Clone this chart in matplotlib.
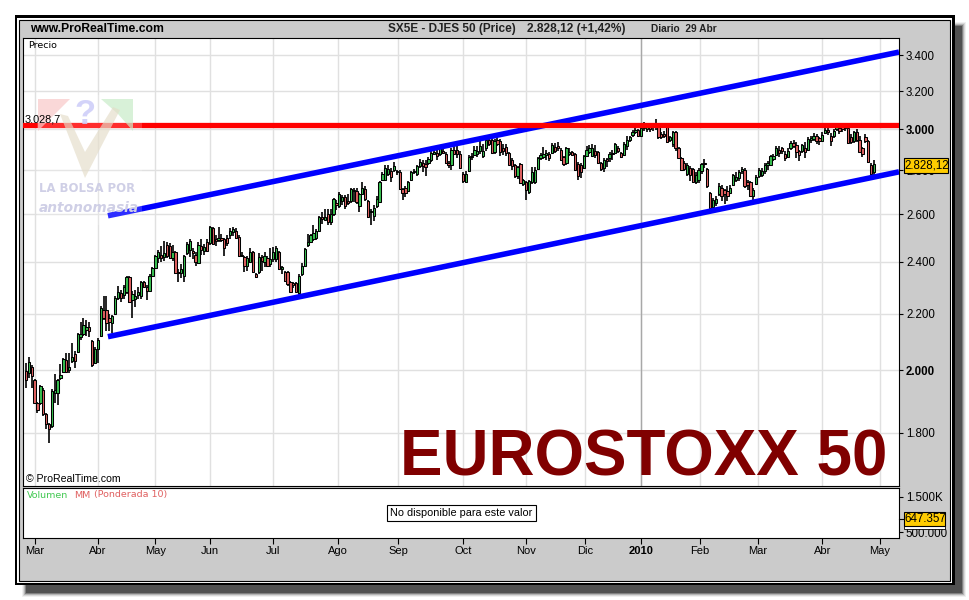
import numpy as np
import matplotlib
matplotlib.use('Agg')
import matplotlib.pyplot as plt
from matplotlib.patches import Rectangle, Polygon

plt.rcParams['font.family'] = ['Liberation Sans', 'DejaVu Sans']

# daily candles (one line = ten sessions)
opens = [
    1998,1991,2011,1968,1891,1891,1935,1857,1826,1820,
    1926,1926,1975,1995,2035,2000,2030,2055,2062,2115,
    2125,2140,2150,2100,2025,2072,2120,2212,2212,2185,
    2165,2200,2258,2278,2268,2280,2340,2250,2255,2270,
    2265,2320,2300,2285,2345,2375,2415,2430,2420,2470,
    2465,2415,2440,2360,2355,2345,2435,2450,2445,2430,
    2395,2465,2445,2480,2478,2540,2495,2490,2500,2495,
    2500,2510,2525,2530,2503,2425,2420,2385,2400,2440,
    2350,2360,2420,2400,2417,2390,2410,2410,2440,2372,
    2358,2360,2320,2316,2315,2276,2350,2385,2470,2483,
    2495,2500,2530,2588,2575,2600,2565,2600,2650,2635,
    2660,2675,2660,2660,2710,2705,2635,2690,2712,2660,
    2610,2595,2635,2655,2755,2755,2785,2795,2800,2795,
    2790,2712,2720,2705,2755,2790,2785,2820,2835,2830,
    2835,2847,2880,2885,2880,2895,2880,2835,2825,2900,
    2900,2880,2785,2745,2795,2865,2875,2880,2895,2870,
    2905,2945,2945,2890,2945,2940,2905,2910,2885,2850,
    2825,2772,2830,2735,2745,2700,2745,2745,2805,2860,
    2865,2875,2880,2885,2910,2915,2900,2865,2835,2880,
    2890,2880,2830,2825,2810,2870,2890,2870,2895,2890,
    2835,2810,2855,2860,2880,2885,2905,2885,2875,2915,
    2945,2970,2985,2995,2968,3005,3000,3010,3010,3015,
    3015,2975,2975,3010,2945,2925,2985,2905,2860,2835,
    2785,2810,2805,2745,2755,2795,2835,2805,2695,2632,
    2650,2690,2720,2710,2705,2695,2730,2755,2765,2795,
    2800,2745,2745,2680,2735,2772,2780,2795,2825,2825,
    2855,2875,2900,2905,2880,2865,2905,2930,2920,2895,
    2895,2905,2900,2945,2950,2965,2955,2940,2980,2995,
    2965,2965,3000,3005,3010,3005,3005,2960,2940,2985,
    2945,2905,2960,2940,2827,2790]
highs = [
    2025,2045,2018,1972,1895,1952,1940,1860,1830,1936,
    1988,1972,2022,2042,2060,2060,2094,2065,2130,2168,
    2185,2175,2170,2105,2078,2110,2228,2265,2265,2200,
    2195,2265,2305,2290,2310,2345,2345,2285,2290,2300,
    2325,2325,2310,2350,2380,2430,2450,2465,2488,2480,
    2478,2470,2445,2370,2390,2430,2480,2495,2455,2440,
    2480,2495,2475,2495,2550,2545,2510,2545,2515,2500,
    2510,2540,2545,2540,2510,2440,2425,2425,2455,2445,
    2355,2435,2430,2440,2425,2455,2460,2465,2445,2385,
    2365,2365,2325,2320,2320,2350,2395,2458,2516,2515,
    2555,2535,2595,2612,2625,2625,2625,2672,2665,2700,
    2685,2685,2690,2720,2720,2720,2695,2745,2725,2665,
    2625,2640,2680,2750,2790,2825,2825,2810,2838,2800,
    2800,2720,2725,2750,2795,2805,2825,2855,2850,2850,
    2865,2895,2905,2900,2915,2915,2890,2845,2905,2925,
    2930,2895,2790,2795,2875,2885,2915,2915,2945,2925,
    2955,2965,2955,2950,2970,2950,2925,2925,2890,2860,
    2830,2820,2835,2760,2750,2755,2815,2815,2865,2885,
    2910,2900,2890,2930,2930,2935,2905,2870,2910,2905,
    2895,2885,2840,2835,2875,2915,2920,2927,2920,2895,
    2840,2860,2860,2890,2900,2930,2915,2890,2935,2965,
    2965,2995,3005,3000,3025,3035,3030,3025,3030,3052,
    3025,2985,2990,3030,2965,2990,2990,2910,2865,2845,
    2835,2820,2810,2790,2810,2835,2855,2810,2700,2672,
    2680,2740,2730,2715,2725,2730,2785,2790,2800,2815,
    2810,2755,2750,2720,2780,2810,2810,2835,2845,2875,
    2880,2915,2915,2910,2895,2905,2940,2945,2935,2900,
    2925,2935,2960,2965,2980,2975,2960,2985,3010,3005,
    2980,3000,3025,3025,3025,3025,3015,2975,2990,3000,
    2965,2910,2975,2945,2835,2850]
lows = [
    1942,1975,1942,1888,1862,1885,1852,1811,1769,1815,
    1894,1885,1968,1990,1990,1990,2025,2008,2058,2105,
    2120,2120,2115,2012,2020,2025,2115,2175,2135,2135,
    2130,2195,2250,2245,2255,2275,2240,2185,2225,2255,
    2255,2295,2250,2280,2340,2370,2395,2400,2405,2415,
    2410,2405,2350,2320,2335,2320,2430,2420,2410,2385,
    2390,2430,2430,2440,2470,2470,2465,2480,2480,2425,
    2465,2495,2505,2495,2420,2420,2360,2365,2395,2355,
    2335,2350,2365,2380,2380,2380,2400,2400,2368,2350,
    2320,2305,2280,2295,2280,2270,2345,2380,2462,2478,
    2485,2490,2525,2560,2575,2555,2555,2595,2620,2630,
    2640,2625,2640,2650,2655,2645,2610,2685,2660,2585,
    2555,2570,2630,2650,2750,2750,2775,2745,2790,2780,
    2707,2665,2675,2700,2750,2785,2775,2810,2790,2775,
    2825,2840,2875,2850,2870,2880,2830,2810,2800,2875,
    2860,2805,2742,2740,2790,2850,2870,2865,2880,2860,
    2895,2915,2880,2880,2915,2870,2875,2870,2825,2800,
    2765,2760,2735,2725,2665,2690,2735,2735,2800,2850,
    2855,2850,2845,2880,2885,2895,2845,2820,2825,2870,
    2870,2795,2755,2765,2805,2865,2880,2865,2860,2830,
    2795,2790,2815,2840,2850,2880,2885,2860,2870,2900,
    2935,2960,2975,2960,2960,2990,2985,2985,2990,2995,
    2950,2950,2955,2930,2935,2910,2895,2855,2795,2795,
    2775,2750,2740,2735,2740,2785,2810,2720,2618,2625,
    2635,2680,2660,2645,2660,2690,2725,2745,2750,2785,
    2720,2710,2675,2665,2730,2765,2770,2785,2800,2820,
    2845,2870,2865,2880,2845,2860,2900,2905,2860,2845,
    2885,2860,2895,2930,2940,2925,2920,2935,2975,2970,
    2915,2955,2990,2975,2985,2990,2925,2925,2930,2935,
    2885,2865,2930,2835,2770,2780]
closes = [
    1968,2028,1981,1891,1869,1948,1857,1826,1811,1932,
    1935,1968,1985,2038,1995,2010,2045,2032,2125,2125,
    2158,2150,2135,2018,2072,2105,2222,2183,2165,2170,
    2190,2258,2280,2260,2300,2340,2245,2275,2265,2280,
    2320,2300,2285,2345,2375,2425,2440,2415,2435,2425,
    2415,2440,2355,2355,2370,2425,2474,2485,2435,2400,
    2470,2450,2460,2445,2545,2475,2485,2500,2490,2458,
    2478,2530,2535,2500,2425,2430,2385,2415,2440,2360,
    2340,2420,2405,2425,2385,2410,2440,2458,2372,2378,
    2325,2312,2283,2310,2283,2345,2385,2454,2480,2510,
    2520,2530,2590,2578,2590,2565,2600,2667,2640,2690,
    2675,2635,2650,2712,2705,2655,2690,2720,2667,2590,
    2615,2630,2670,2745,2781,2810,2808,2770,2820,2790,
    2712,2695,2695,2745,2790,2795,2820,2840,2820,2815,
    2855,2885,2890,2870,2905,2885,2835,2825,2899,2880,
    2880,2810,2750,2785,2865,2870,2900,2895,2915,2895,
    2945,2925,2885,2940,2925,2890,2895,2885,2827,2820,
    2772,2815,2740,2755,2708,2750,2790,2800,2860,2875,
    2880,2885,2860,2920,2895,2905,2850,2830,2905,2890,
    2875,2800,2775,2790,2870,2900,2905,2905,2875,2835,
    2805,2850,2845,2880,2885,2925,2895,2865,2925,2945,
    2960,2985,2995,2965,3005,3015,3010,3000,3015,3020,
    2960,2960,2965,2935,2960,2985,2905,2860,2800,2805,
    2825,2780,2745,2780,2800,2830,2830,2725,2630,2665,
    2670,2725,2680,2690,2680,2720,2780,2770,2790,2805,
    2725,2730,2680,2710,2770,2800,2795,2825,2835,2870,
    2870,2905,2885,2895,2860,2895,2930,2915,2890,2875,
    2920,2890,2950,2955,2965,2940,2940,2972,2998,2985,
    2940,2990,3010,2990,3000,3015,2930,2935,2985,2945,
    2890,2880,2940,2840,2785,2828]

price_ticks = [1800, 2000, 2200, 2400, 2600, 2800, 3000, 3200, 3400]
price_labels = ['1.800', '2.000', '2.200', '2.400', '2.600', '2.800', '3.000', '3.200', '3.400']
month_pos = [3, 25, 45, 64, 86, 108.5, 129.5, 152, 174, 194.5, 214, 234.5, 254.5, 277, 297]
month_labels = ['Mar', 'Abr', 'May', 'Jun', 'Jul', 'Ago', 'Sep', 'Oct', 'Nov', 'Dic',
                '2010', 'Feb', 'Mar', 'Abr', 'May']
resistance = 3022
channel_x = [28.5, 303.7]
channel_top = [2594, 3417]
channel_bottom = [2116, 2793]
volume_ticks = [500000, 1500000]
volume_labels = ['500.000', '1.500K']

W, H = 970, 600
fig = plt.figure(figsize=(W / 100, H / 100), dpi=100, facecolor='white')


def box(x0, y0, x1, y1):
    # pixel box -> figure fractions
    return [x0 / W, 1 - y1 / H, (x1 - x0) / W, (y1 - y0) / H]


# frame and drop shadow, in pixels
back = fig.add_axes([0, 0, 1, 1], zorder=-1)
back.set_xlim(0, W)
back.set_ylim(H, 0)
back.axis('off')
for grow, col in [(4, '#f0f0f0'), (3, '#d8d8d8'), (2, '#b4b4b4'), (1, '#808080'), (0, '#505050')]:
    back.add_patch(Rectangle((26 - grow, 26 - grow), 936 + 2 * grow, 567 + 2 * grow, fc=col, ec='none'))
back.add_patch(Rectangle((15, 15), 940, 570, fc='black', ec='none'))
back.add_patch(Rectangle((17.5, 17.5), 935, 565, fc='white', ec='none'))
back.add_patch(Rectangle((19.5, 19.5), 931, 561, fc='#cbcbcb', ec='black', lw=0.8))

# price panel
ax = fig.add_axes(box(23.5, 38, 899, 485.5))
x = np.arange(len(closes))
assert len(opens) == len(highs) == len(lows) == len(closes)
ax.set_yscale('log')
ax.set_xlim(-0.87, 303.7)
ax.set_ylim(1647, 3499)
ax.set_axisbelow(True)
ax.set_xticks(month_pos)
ax.tick_params(axis='x', length=0, labelbottom=False)
ax.yaxis.tick_right()
ax.set_yticks(price_ticks)
ax.set_yticklabels(price_labels, fontsize=8.3)
ax.minorticks_off()
ax.tick_params(axis='y', length=3, width=0.8, pad=2)
for lab, val in zip(ax.get_yticklabels(), price_ticks):
    if val in (2000, 3000):
        lab.set_fontweight('bold')
ax.grid(True, color='#e0e0e0', lw=1)
ax.axvline(214, color='#a8a8a8', lw=1, zorder=1)

o = np.array(opens)
c = np.array(closes)
ax.vlines(x, lows, highs, color='black', lw=1.2, zorder=2)
colors = ['#38c050' if b >= a else '#e06060' for a, b in zip(o, c)]
ax.bar(x, np.maximum(np.abs(c - o), 2), bottom=np.minimum(o, c), width=0.8, color=colors,
       edgecolor='black', linewidth=0.75, zorder=3)

ax.plot(channel_x, channel_top, color='#0000ff', lw=4, solid_capstyle='butt', zorder=4)
ax.plot(channel_x, channel_bottom, color='#0000ff', lw=4, solid_capstyle='butt', zorder=4)
ax.axhline(resistance, color='#ff0000', lw=3.8, zorder=5)

# volume panel, the source has no values for this index
vol = fig.add_axes(box(23.5, 488, 899, 538))
vol.set_yscale('log')
vol.set_xlim(-0.87, 303.7)
vol.set_ylim(420000, 1970000)
vol.yaxis.tick_right()
vol.set_yticks(volume_ticks)
vol.set_yticklabels(volume_labels, fontsize=8.3)
vol.minorticks_off()
vol.tick_params(axis='y', length=3, width=0.8, pad=2)
vol.set_xticks(month_pos)
vol.set_xticklabels(month_labels, fontsize=8)
vol.tick_params(axis='x', length=4, width=0.8, pad=2)
for lab in vol.get_xticklabels():
    if lab.get_text() == '2010':
        lab.set_fontweight('bold')

# texts and logo on top, in pixels
top = fig.add_axes([0, 0, 1, 1], zorder=5)
top.set_xlim(0, W)
top.set_ylim(H, 0)
top.axis('off')

top.text(30, 29, 'www.ProRealTime.com', fontsize=8.7, fontweight='bold', va='center')
top.text(388, 29, 'SX5E - DJES 50 (Price)', fontsize=8.45, fontweight='bold', va='center', color='#222222')
top.text(527, 29, '2.828,12 (+1,42%)', fontsize=8.6, fontweight='bold', va='center', color='#222222')
top.text(651, 29, 'Diario  29 Abr', fontsize=7.3, fontweight='bold', va='center', color='#222222')
top.text(28, 45, 'Precio', fontsize=6.8, va='center', family='DejaVu Sans')
top.text(25, 119.5, '3.028,7', fontsize=7.8, va='center')

# logo
top.add_patch(Rectangle((37, 95), 105, 130, fc='white', ec='none', alpha=0.18))
top.add_patch(Polygon([(38, 99), (70, 99), (38, 131)], fc='#f8c8c8', ec='none', alpha=0.7))
top.add_patch(Polygon([(101, 99), (133, 99), (133, 131), (118, 114)], fc='#c8ecc8', ec='none', alpha=0.7))
top.add_patch(Polygon([(60, 114), (85, 178), (120, 110), (113, 107), (85, 152), (68, 116)],
                      fc='#e4dcc8', ec='none', alpha=0.65))
top.text(85, 114, '?', fontsize=25, fontweight='bold', color='#ccccf8', ha='center', va='center', alpha=0.85)
top.text(39, 189, 'LA BOLSA POR', fontsize=8.4, fontweight='bold', color='#cfcfe6', va='center',
         family='DejaVu Sans')
top.text(39, 208, 'antonomasia', fontsize=9.9, fontweight='bold', fontstyle='italic', color='#cfcfe6',
         va='center', family='DejaVu Sans')

top.text(400, 476, 'EUROSTOXX 50', fontsize=45.9, fontweight='bold', color='#800000', va='baseline')
top.text(26, 479, '\u00a9 ProRealTime.com', fontsize=7.6, va='center')

top.text(27, 495, 'Volumen', fontsize=6.8, color='#40c850', va='center', family='DejaVu Sans')
top.text(74, 495, 'MM', fontsize=6.8, color='#e06060', va='center', family='DejaVu Sans')
top.text(94, 495, '(Ponderada 10)', fontsize=6.8, color='#e06060', va='center', family='DejaVu Sans')
top.text(461.5, 513, 'No disponible para este valor', fontsize=7.8, ha='center', va='center',
         bbox=dict(boxstyle='square,pad=0.3', fc='white', ec='black', lw=0.8))

# last value tags
top.add_patch(Rectangle((904.5, 158), 44, 14.5, fc='#ffcc00', ec='black', lw=0.8))
top.text(926.5, 165, '2.828,12', fontsize=8.3, ha='center', va='center')
top.add_patch(Rectangle((904.5, 526), 41, 3, fc='white', ec='black', lw=0.6))
top.add_patch(Rectangle((904.5, 511.5), 41, 14.5, fc='#ffcc00', ec='black', lw=0.8))
top.text(925, 519, '647.357', fontsize=8.3, ha='center', va='center')
top.plot([899, 904], [519, 519], color='black', lw=0.8)

fig.savefig('out.png', dpi=100)
